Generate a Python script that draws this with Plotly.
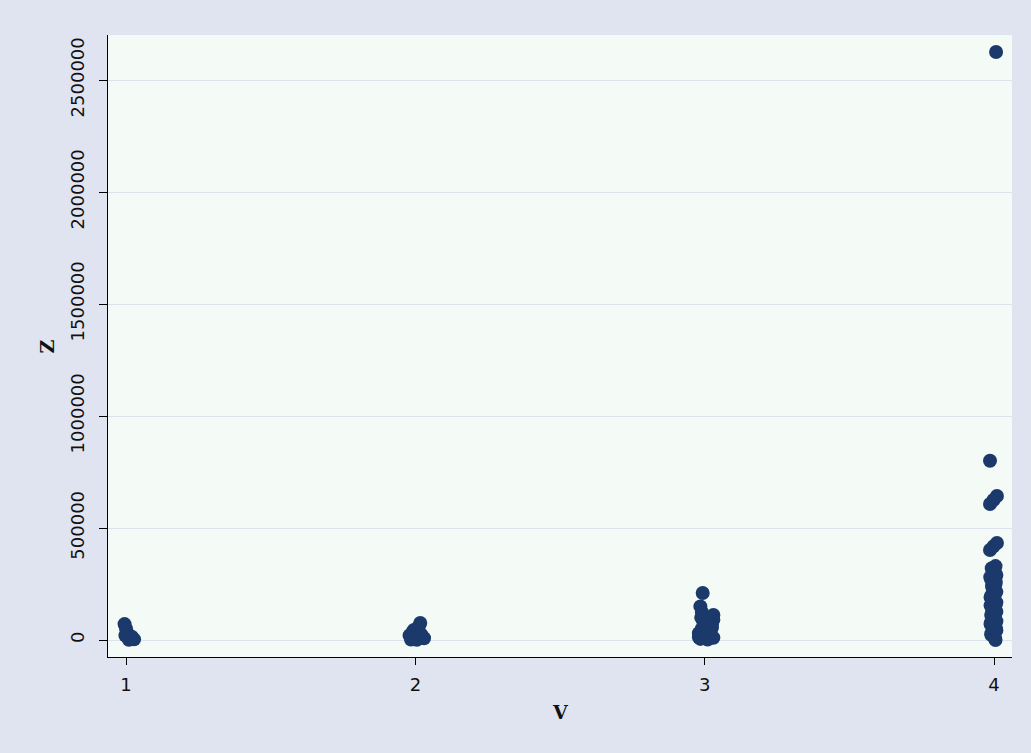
import plotly.graph_objects as go

# Observations of Z by group V (small horizontal jitter within each group)
v_group1 = [0.995, 1.0, 1.005, 1.02, 1.028, 1.01, 0.998, 1.015]
z_group1 = [71000, 50000, 30000, 15000, 3000, 1000, 20000, 8000]

v_group2 = [2.017, 2.012, 1.98, 1.99, 2.0, 2.03, 2.02, 1.985, 2.005, 2.025, 1.995, 2.01]
z_group2 = [76000, 60000, 20000, 35000, 10000, 8000, 25000, 2000, 1000, 15000, 45000, 30000]

v_group3 = [2.993, 2.985, 2.99, 2.988, 3.03, 3.03, 3.025, 2.98, 2.99, 3.0, 3.02, 3.03,
            2.985, 3.01, 3.0, 2.995, 3.015, 2.98, 3.005, 3.025]
z_group3 = [210000, 150000, 125000, 100000, 112000, 90000, 70000, 30000, 50000, 15000, 40000, 10000,
            5000, 2000, 70000, 85000, 25000, 12000, 45000, 55000]

v_group4 = [4.007, 3.986, 3.986, 3.998, 4.01, 3.986, 3.998, 4.01,
            4.005, 3.995, 4.008, 3.99, 4.005, 3.995, 4.008, 3.99, 4.0, 4.008,
            3.988, 4.0, 4.008, 3.99, 4.0, 4.008, 3.988, 4.0, 4.008, 3.99, 4.0, 4.005,
            3.992, 4.003, 3.987, 4.006, 3.993, 4.004, 3.988, 4.006, 3.994, 4.002,
            3.989, 4.007, 3.991, 4.004]
z_group4 = [2625000, 800000, 607000, 625000, 643000, 402000, 418000, 433000,
            330000, 310000, 290000, 270000, 250000, 232000, 215000, 198000, 182000, 168000,
            154000, 140000, 126000, 112000, 98000, 84000, 70000, 56000, 42000, 28000, 14000, 0,
            320000, 300000, 280000, 260000, 240000, 206000, 190000, 160000, 132000, 105000,
            77000, 50000, 22000, 6000]

v_all = v_group1 + v_group2 + v_group3 + v_group4
z_all = z_group1 + z_group2 + z_group3 + z_group4

x_ticks = [1, 2, 3, 4]
y_ticks = [0, 500000, 1000000, 1500000, 2000000, 2500000]

marker_color = "#1b3a6b"

fig = go.Figure(
    go.Scatter(
        x=v_all,
        y=z_all,
        mode="markers",
        marker=dict(size=14, color=marker_color, line=dict(width=0)),
        showlegend=False,
    )
)

tick_font = dict(family="DejaVu Sans", size=18, color="#111111")
title_font = dict(family="DejaVu Serif", size=19, color="#111111", weight="bold")

fig.update_layout(
    width=1031,
    height=753,
    paper_bgcolor="#e0e4f1",
    plot_bgcolor="#f4faf6",
    margin=dict(l=108, r=19, t=35, b=96),
    xaxis=dict(
        range=[0.9378, 4.062],
        tickmode="array",
        tickvals=x_ticks,
        ticktext=[str(t) for t in x_ticks],
        ticks="outside",
        ticklen=7,
        tickcolor="#000000",
        showline=True,
        linecolor="#000000",
        linewidth=1,
        showgrid=False,
        zeroline=False,
        tickfont=tick_font,
        ticklabelstandoff=4,
    ),
    yaxis=dict(
        range=[-75900, 2700900],
        tickmode="array",
        tickvals=y_ticks,
        ticktext=[str(t) for t in y_ticks],
        tickangle=-90,
        ticks="outside",
        ticklen=8,
        tickcolor="#000000",
        showline=True,
        linecolor="#000000",
        linewidth=1,
        showgrid=True,
        gridcolor="#dde2ef",
        gridwidth=1,
        zeroline=False,
        tickfont=tick_font,
        ticklabelstandoff=8,
    ),
    annotations=[
        dict(
            text="V", xref="x domain", yref="paper", x=0.5, y=-0.088,
            xanchor="center", yanchor="middle", showarrow=False, font=title_font,
        ),
        dict(
            text="Z", xref="paper", yref="y domain", x=-0.067, y=0.5,
            xanchor="center", yanchor="middle", textangle=-90, showarrow=False,
            font=title_font,
        ),
    ],
)

fig.write_html("out.html")
